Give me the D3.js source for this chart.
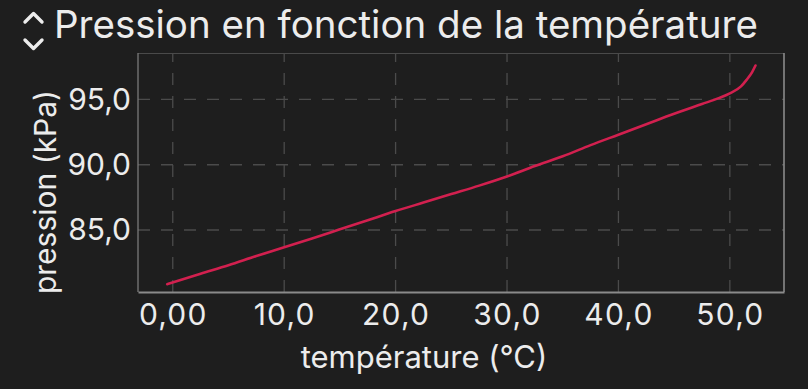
<!DOCTYPE html>
<html>
<head>
<meta charset="utf-8">
<script src="https://cdn.jsdelivr.net/npm/d3@7"></script>
<style>
  html, body { margin: 0; padding: 0; background: #1e1e1e; }
  svg { display: block; }
  text { font-family: Inter, "Open Sans", sans-serif; fill: #ececec; }
</style>
</head>
<body>
<svg id="chart" width="808" height="389"></svg>
<script>
// Pression de vapeur mesurée en fonction de la température
const temperatures = [-0.5, 2.5, 5, 7.5, 10, 12.5, 15, 17.5, 20, 22.5, 25, 27.5, 30, 32.5, 35, 37.5, 40, 42.5, 45, 47.5, 49, 50, 51, 51.5, 52, 52.3];
const pressions    = [80.85, 81.65, 82.3, 83.0, 83.67, 84.35, 85.05, 85.75, 86.45, 87.1, 87.75, 88.4, 89.1, 89.9, 90.65, 91.5, 92.3, 93.1, 93.9, 94.65, 95.1, 95.47, 96.0, 96.5, 97.1, 97.6];
const xTicks = [0, 10, 20, 30, 40, 50];
const xTickLabels = ["0,00", "10,0", "20,0", "30,0", "40,0", "50,0"];
const yTicks = [85, 90, 95];
const yTickLabels = ["85,0", "90,0", "95,0"];

const titre = "Pression en fonction de la température";
const titreX = "température (°C)";
const titreY = "pression (kPa)";

const svg = d3.select("#chart");
const plot = { left: 138, right: 784, top: 53, bottom: 292 };

const x = d3.scaleLinear().domain([-3.12, 54.86]).range([plot.left, plot.right]);
const y = d3.scaleLinear().domain([80.25, 98.56]).range([plot.bottom, plot.top]);

svg.append("rect").attr("width", 808).attr("height", 389).attr("fill", "#1e1e1e");

// Quadrillage en pointillés
const grid = svg.append("g").attr("stroke", "#4b4b4b").attr("stroke-width", 1.3).attr("stroke-dasharray", "12,11");
grid.selectAll("line.v").data(xTicks).join("line").attr("class", "v")
  .attr("x1", d => x(d)).attr("x2", d => x(d))
  .attr("y1", plot.bottom).attr("y2", plot.top);
grid.selectAll("line.h").data(yTicks).join("line").attr("class", "h")
  .attr("y1", d => y(d)).attr("y2", d => y(d))
  .attr("x1", plot.left).attr("x2", plot.right);

// Cadre de la zone de tracé
svg.append("line").attr("x1", plot.left).attr("x2", plot.right).attr("y1", plot.top + 0.5).attr("y2", plot.top + 0.5)
  .attr("stroke", "#4a4a4a").attr("stroke-width", 1);
svg.append("line").attr("x1", plot.left).attr("x2", plot.left).attr("y1", plot.top).attr("y2", plot.bottom)
  .attr("stroke", "#7a7a7a").attr("stroke-width", 1.3);
svg.append("line").attr("x1", plot.right).attr("x2", plot.right).attr("y1", plot.top).attr("y2", plot.bottom)
  .attr("stroke", "#8a8a8a").attr("stroke-width", 1.6);

// Axe horizontal
const xAxis = d3.axisBottom(x).tickValues(xTicks).tickSize(0).tickPadding(12)
  .tickFormat((d, i) => xTickLabels[i]);
const gx = svg.append("g").attr("transform", `translate(0,${plot.bottom})`).call(xAxis);
gx.select(".domain").attr("stroke", "#8a8a8a").attr("stroke-width", 2);
gx.selectAll(".tick text").attr("font-size", 30).attr("letter-spacing", 1.2)
  .attr("fill", "#ececec").attr("dy", "0.71em");

// Axe vertical
const yAxis = d3.axisLeft(y).tickValues(yTicks).tickSize(0).tickPadding(7)
  .tickFormat((d, i) => yTickLabels[i]);
const gy = svg.append("g").attr("transform", `translate(${plot.left},0)`).call(yAxis);
gy.select(".domain").remove();
gy.selectAll(".tick text").attr("font-size", 30).attr("fill", "#ececec");

// Courbe
const line = d3.line().x((d, i) => x(temperatures[i])).y(d => y(d)).curve(d3.curveMonotoneX);
svg.append("path").datum(pressions).attr("d", line)
  .attr("fill", "none").attr("stroke", "#d2204f").attr("stroke-width", 2.6)
  .attr("stroke-linecap", "round").attr("stroke-linejoin", "round");

// Titres
svg.append("text").attr("x", 54).attr("y", 37.5).attr("font-size", 38.5).text(titre);
svg.append("text").attr("x", 424).attr("y", 368)
  .attr("text-anchor", "middle").attr("font-size", 31).text(titreX);
svg.append("text").attr("transform", "translate(56,192) rotate(-90)")
  .attr("text-anchor", "middle").attr("font-size", 30).text(titreY);

// Chevrons haut/bas à gauche du titre
const chevrons = svg.append("g").attr("fill", "none").attr("stroke", "#ececec")
  .attr("stroke-width", 3.4).attr("stroke-linecap", "round").attr("stroke-linejoin", "round");
chevrons.append("path").attr("d", "M25,22 L33.5,13.5 L42,22");
chevrons.append("path").attr("d", "M25,40 L33.5,48.5 L42,40");
</script>
</body>
</html>
